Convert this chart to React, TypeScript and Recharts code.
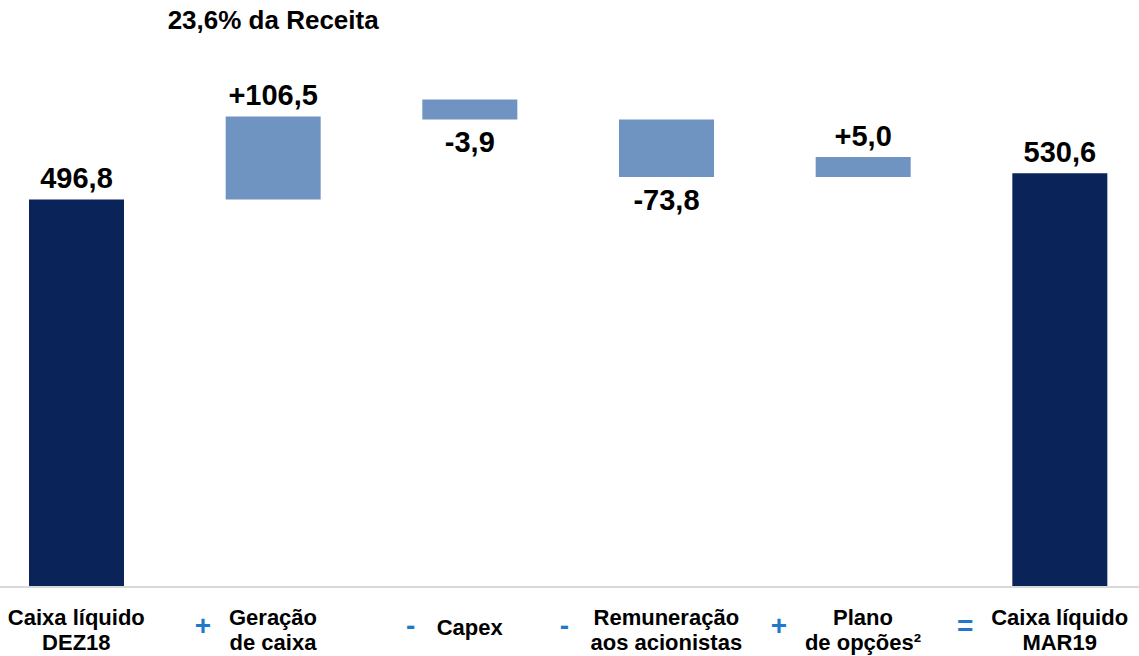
import { BarChart, Bar, XAxis, YAxis, Cell, LabelList } from 'recharts';

// category labels (two lines each), the operator shown before each one
const labelTop = ['Caixa líquido', 'Geração', 'Capex', 'Remuneração', 'Plano', 'Caixa líquido'];
const labelBottom = ['DEZ18', 'de caixa', '', 'aos acionistas', 'de opções²', 'MAR19'];
const operators = ['', '+', '-', '-', '+', '='];

// R$ mi: totals and the movements between them
const values = [496.8, 106.5, -3.9, -73.8, 5.0, 530.6];
const isTotal = [true, false, false, false, false, true];

// note shown above "Geração de caixa"
const noteIndex = 1;
const noteText = '23,6% da Receita';

const NAVY = '#0a2359';
const STEEL = '#7094c1';
const BLUE = '#1f78c8';
const FONT = '"Liberation Sans", Arial, sans-serif';

let running = 0;
const data = values.map((v, i) => {
  let range: number[];
  if (isTotal[i]) {
    range = [0, v];
    running = v;
  } else {
    const next = running + v;
    range = [Math.min(running, next), Math.max(running, next)];
    running = next;
  }
  return { name: `${labelTop[i]} ${labelBottom[i]}`.trim(), range, value: v };
});

const fmt = (v: number, delta: boolean) =>
  (delta && v > 0 ? '+' : '') + v.toFixed(1).replace('.', ',');

const ctx = typeof document !== 'undefined' ? document.createElement('canvas').getContext('2d') : null;
function textWidth(s: string) {
  if (!ctx) return s.length * 11;
  ctx.font = `bold 22px ${FONT}`;
  return ctx.measureText(s).width;
}

function CategoryTick(props: any) {
  const { x, y, payload } = props;
  let i = props.index ?? payload?.index;
  if (i == null) i = data.findIndex((d) => d.name === payload.value);
  const top = labelTop[i];
  const bottom = labelBottom[i];
  const w = Math.max(textWidth(top), bottom ? textWidth(bottom) : 0);
  const common = { textAnchor: 'middle' as const, fontFamily: FONT, fontWeight: 700, fontSize: 22, fill: '#000' };
  return (
    <g>
      {bottom ? (
        <>
          <text x={x} y={y + 38} {...common}>{top}</text>
          <text x={x} y={y + 63} {...common}>{bottom}</text>
        </>
      ) : (
        <text x={x} y={y + 48} {...common}>{top}</text>
      )}
      {operators[i] && (
        <text x={x - w / 2 - 26} y={y + 48} textAnchor="middle" fontFamily={FONT} fontWeight={700} fontSize={28} fill={BLUE}>
          {operators[i]}
        </text>
      )}
    </g>
  );
}

function ValueLabel(props: any) {
  const { x, y, width, height, index } = props;
  const v = values[index];
  const cx = x + width / 2;
  const below = !isTotal[index] && v < 0;
  const ty = below ? y + height + 33 : y - 11;
  return (
    <g>
      <text x={cx} y={ty} textAnchor="middle" fontFamily={FONT} fontWeight={700} fontSize={29} fill="#000">
        {fmt(v, !isTotal[index])}
      </text>
      {index === noteIndex && (
        <text x={cx} y={29} textAnchor="middle" fontFamily={FONT} fontWeight={700} fontSize={26} fill="#000">
          {noteText}
        </text>
      )}
    </g>
  );
}

export default function App() {
  return (
    <div style={{ position: 'fixed', left: 0, top: 0, width: 1139, height: 656, overflow: 'hidden', background: '#fff' }}>
      <div style={{ position: 'absolute', left: -22, top: 0 }}>
        <BarChart width={1180} height={656} data={data} margin={{ top: 41, right: 0, bottom: 0, left: 0 }}>
          <XAxis
            dataKey="name"
            interval={0}
            height={69}
            tickSize={0}
            tickMargin={0}
            tickLine={false}
            axisLine={{ stroke: '#d9d9d9', strokeWidth: 2 }}
            tick={<CategoryTick />}
          />
          <YAxis hide domain={[0, 700]} />
          <Bar dataKey="range" barSize={95} minPointSize={20} isAnimationActive={false}>
            {data.map((d, i) => (
              <Cell key={d.name} fill={isTotal[i] ? NAVY : STEEL} />
            ))}
            <LabelList dataKey="value" content={<ValueLabel />} />
          </Bar>
        </BarChart>
      </div>
    </div>
  );
}
